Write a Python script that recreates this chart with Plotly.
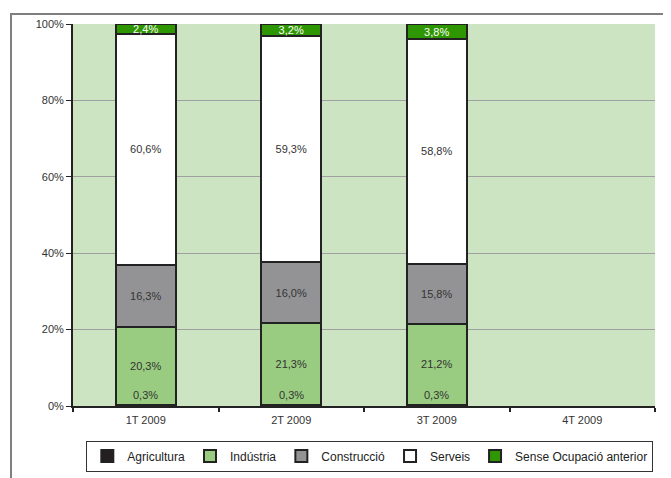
import plotly.graph_objects as go

trimestres = ['1T 2009', '2T 2009', '3T 2009', '4T 2009']
agricultura = [0.3, 0.3, 0.3, None]
industria = [20.3, 21.3, 21.2, None]
construccio = [16.3, 16.0, 15.8, None]
serveis = [60.6, 59.3, 58.8, None]
sense_ocupacio = [2.4, 3.2, 3.8, None]

series = [
    ('Agricultura', agricultura, '#231f20', '#333333'),
    ('Indústria', industria, '#99cc80', '#333333'),
    ('Construcció', construccio, '#939396', '#333333'),
    ('Serveis', serveis, '#ffffff', '#333333'),
    ('Sense Ocupació anterior', sense_ocupacio, '#2e9600', '#ffffff'),
]


def fmt(v):
    return '' if v is None else f'{v:.1f}%'.replace('.', ',')


fig = go.Figure()
for nom, vals, color, tcolor in series:
    fig.add_trace(go.Bar(
        x=trimestres, y=vals, name=nom,
        marker=dict(color=color, line=dict(color='#222222', width=2)),
        text=None if nom == 'Agricultura' else [fmt(v) for v in vals],
        textposition='inside', insidetextanchor='middle', constraintext='none',
        textfont=dict(color=tcolor, size=11, family='Liberation Sans'),
        hoverinfo='skip',
    ))

# etiquetes de l'agricultura (segment massa petit)
for x, v in zip(trimestres, agricultura):
    if v is not None:
        fig.add_annotation(x=x, y=v, text=fmt(v), showarrow=False,
                           yanchor='bottom', yshift=2,
                           font=dict(color='#333333', size=11, family='Liberation Sans'))

# marc exterior
fig.add_shape(type='rect', xref='paper', yref='paper',
              x0=-0.1065, x1=1.5, y0=-0.5, y1=1.026,
              line=dict(color='#7f7f7f', width=2), layer='below')

# la pàgina té 8px de marge al body
fig.update_layout(
    barmode='stack', bargap=0.59,
    width=663, height=470,
    margin=dict(l=65, r=16, t=16, b=72, autoexpand=False),
    paper_bgcolor='white', plot_bgcolor='#cce4c2',
    font=dict(family='Liberation Sans', size=11, color='#333333'),
    showlegend=True,
    legend=dict(orientation='h', x=0.51, y=-0.131, xanchor='center', yanchor='middle',
                bordercolor='#333333', borderwidth=1, bgcolor='white',
                font=dict(size=12, color='#222222'), traceorder='normal',
                itemwidth=30, tracegroupgap=0),
)
fig.update_xaxes(showline=True, linecolor='#222222', linewidth=2, ticks='outside',
                 tickson='boundaries', ticklen=4, tickcolor='#222222', tickwidth=2,
                 ticklabelstandoff=3,
                 showgrid=False, mirror=False, automargin=False)
fig.update_yaxes(range=[0, 100], dtick=20, ticksuffix='%', showline=True,
                 linecolor='#222222', linewidth=2, ticks='outside', ticklen=5,
                 tickcolor='#222222', gridcolor='#a0a0a0', gridwidth=1,
                 zeroline=False, fixedrange=True, automargin=False)

fig.write_html('out.html')
